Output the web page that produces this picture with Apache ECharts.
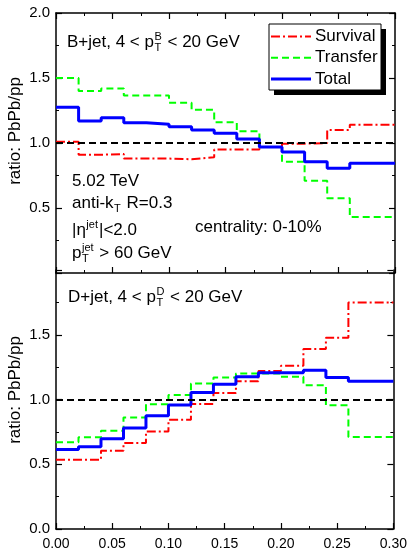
<!DOCTYPE html>
<html>
<head>
<meta charset="utf-8">
<script src="https://cdn.jsdelivr.net/npm/echarts@6/dist/echarts.min.js"></script>
<style>
html,body{margin:0;padding:0;background:#fff;}
#chart{width:410px;height:551px;}
</style>
</head>
<body>
<div id="chart"></div>
<script>
// ---------- data ----------
const binEdges = [0.00,0.02,0.04,0.06,0.08,0.10,0.12,0.14,0.16,0.18,0.20,0.22,0.24,0.26,0.28,0.30];
const seriesNames = ['Survival','Transfer','Total'];
// B+jet panel (15 bins)
const bSurvival = [1.01,0.91,0.915,0.88,0.88,0.875,0.89,0.95,0.95,0.97,0.995,1.00,1.10,1.14,1.14];
const bTransfer = [1.50,1.40,1.42,1.365,1.365,1.31,1.255,1.16,1.09,0.97,0.855,0.71,0.575,0.43,0.43];
const bTotal    = [1.275,1.17,1.195,1.155,1.145,1.125,1.10,1.075,1.03,0.97,0.93,0.855,0.805,0.845,0.845];
// D+jet panel (15 bins)
const dSurvival = [0.535,0.535,0.605,0.664,0.753,0.843,0.966,1.05,1.14,1.22,1.26,1.39,1.476,1.75,1.75];
const dTransfer = [0.669,0.708,0.759,0.861,0.963,1.034,1.124,1.17,1.20,1.20,1.175,1.111,0.955,0.71,0.71];
const dTotal    = [0.613,0.636,0.697,0.779,0.874,0.958,1.055,1.118,1.175,1.206,1.206,1.226,1.17,1.14,1.14];
const xTicks = [0.00,0.05,0.10,0.15,0.20,0.25,0.30];
const yTicks = [0.0,0.5,1.0,1.5,2.0];
const referenceValue = 1.0;

// ---------- styling ----------
const FONT = 'Liberation Sans, Arial, sans-serif';
const styles = [
  {color:'#ff0000', width:2, type:[9,3,2,3]},
  {color:'#00ff00', width:2, type:[7,4]},
  {color:'#0000ff', width:3, type:'solid'}
];

function stepData(vals){
  return binEdges.map((x,i)=>[x, vals[Math.min(i, vals.length-1)]]);
}

function xAxisCfg(gridIndex, position, showLabels){
  return {
    type:'value', gridIndex, position, min:binEdges[0], max:binEdges[binEdges.length-1], interval:xTicks[1]-xTicks[0],
    axisLine:{show:true, onZero:false, lineStyle:{color:'#000', width:1.5}},
    axisTick:{show:true, inside:true, length:6, lineStyle:{color:'#000', width:1.2}},
    minorTick:{show:true, splitNumber:2, length:3, lineStyle:{color:'#000', width:1}},
    splitLine:{show:false}, minorSplitLine:{show:false},
    axisLabel:{show:showLabels, formatter:v=>v.toFixed(2), color:'#000', fontSize:14, fontFamily:FONT, margin:8}
  };
}
function yAxisCfg(gridIndex, position, showLabels, hideMin, hideMax){
  return {
    type:'value', gridIndex, position, min:yTicks[0], max:yTicks[yTicks.length-1], interval:0.5,
    axisLine:{show:true, onZero:false, lineStyle:{color:'#000', width:1.5}},
    axisTick:{show:true, inside:true, length:6, lineStyle:{color:'#000', width:1.2}},
    minorTick:{show:true, splitNumber:2, length:3, lineStyle:{color:'#000', width:1}},
    splitLine:{show:false}, minorSplitLine:{show:false},
    axisLabel:{show:showLabels, formatter:v=>v.toFixed(1), color:'#000', fontSize:15, fontFamily:FONT, margin:6,
      showMinLabel:!hideMin, showMaxLabel:!hideMax}
  };
}

function makeSeries(vals, idx, axisIdx, withRef){
  const s = {
    name:seriesNames[idx], type:'line', step:'end', xAxisIndex:axisIdx, yAxisIndex:axisIdx,
    data:stepData(vals), showSymbol:false, symbol:'none', animation:false, silent:true,
    lineStyle:{color:styles[idx].color, width:styles[idx].width, type:styles[idx].type}, z:2+idx
  };
  if(withRef){
    s.markLine = {symbol:'none', silent:true, animation:false, label:{show:false},
      lineStyle:{color:'#000', width:2, type:[7,4]}, data:[{yAxis:referenceValue}], z:10};
  }
  return s;
}

// ---------- text helpers ----------
const mctx = document.createElement('canvas').getContext('2d');
function tw(t, size){ mctx.font = size+'px '+FONT; return mctx.measureText(t).width; }
function txt(x, baseline, t, size){
  return {type:'text', x:x, y:baseline-0.31*size, z:50,
    style:{text:t, fill:'#000', font:size+'px '+FONT, textAlign:'left', textVerticalAlign:'middle', align:'left', verticalAlign:'middle'}};
}
function mathLine(x, baseline, parts, size){
  const els = []; let cx = x; const ss = Math.round(size*0.65);
  parts.forEach(p=>{
    if(typeof p === 'string'){ els.push(txt(cx, baseline, p, size)); cx += tw(p, size); }
    else {
      let w = 0;
      if(p.sup){ els.push(txt(cx+0.5, baseline-0.42*size, p.sup, ss)); w = Math.max(w, tw(p.sup, ss)); }
      if(p.sub){ els.push(txt(cx+0.5, baseline+0.22*size, p.sub, ss)); w = Math.max(w, tw(p.sub, ss)); }
      cx += w + 1.5;
    }
  });
  return els;
}

const S = 17;
let graphics = [];
graphics = graphics.concat(mathLine(67, 48, ['B+jet, 4 < p', {sup:'B', sub:'T'}, ' < 20 GeV'], S));
graphics = graphics.concat(mathLine(72, 187, ['5.02 TeV'], S));
graphics = graphics.concat(mathLine(72, 209, ['anti-k', {sub:'T'}, ' R=0.3'], S));
graphics = graphics.concat(mathLine(72, 236, ['|η', {sup:'jet'}, '|<2.0'], S));
graphics = graphics.concat(mathLine(72, 259, ['p', {sup:'jet', sub:'T'}, ' > 60 GeV'], S));
graphics = graphics.concat(mathLine(195, 233, ['centrality: 0-10%'], S));
graphics = graphics.concat(mathLine(68, 303, ['D+jet, 4 < p', {sup:'D', sub:'T'}, ' < 20 GeV'], S));

// y axis titles
[[15,131],[15,390]].forEach(([x,y])=>{
  graphics.push({type:'text', x:x, y:y, rotation:Math.PI/2, z:50,
    style:{text:'ratio: PbPb/pp', fill:'#000', font:S+'px '+FONT, textAlign:'center', textVerticalAlign:'middle', align:'center', verticalAlign:'middle'}});
});

// legend
const LG = {x:269, y:24, w:112, h:66, sh:5};
graphics.push({type:'rect', z:40, shape:{x:LG.x+LG.sh, y:LG.y+LG.sh, width:LG.w, height:LG.h}, style:{fill:'#000'}});
graphics.push({type:'rect', z:41, shape:{x:LG.x, y:LG.y, width:LG.w, height:LG.h}, style:{fill:'#fff', stroke:'#000', lineWidth:1}});
seriesNames.forEach((n,i)=>{
  const cy = 36.5 + i*21.3;
  graphics.push({type:'line', z:42, shape:{x1:LG.x+2, y1:cy, x2:LG.x+42, y2:cy},
    style:{stroke:styles[i].color, lineWidth:styles[i].width, lineDash: styles[i].type==='solid'?null:styles[i].type}});
  graphics.push({type:'text', z:43, x:LG.x+46, y:cy,
    style:{text:n, fill:'#000', font:S+'px '+FONT, textAlign:'left', textVerticalAlign:'middle', align:'left', verticalAlign:'middle'}});
});

const option = {
  animation:false,
  backgroundColor:'#fff',
  grid:[
    {left:56, right:15, top:13, height:260},
    {left:56, right:15, top:270, height:260}
  ],
  xAxis:[
    xAxisCfg(0,'bottom',false),
    xAxisCfg(1,'bottom',true),
    xAxisCfg(0,'top',false)
  ],
  yAxis:[
    yAxisCfg(0,'left',true,true,false),
    yAxisCfg(1,'left',true,false,true),
    yAxisCfg(0,'right',false,true,true),
    yAxisCfg(1,'right',false,true,true)
  ],
  series:[
    makeSeries(bSurvival,0,0,false),
    makeSeries(bTransfer,1,0,false),
    makeSeries(bTotal,2,0,true),
    makeSeries(dSurvival,0,1,false),
    makeSeries(dTransfer,1,1,false),
    makeSeries(dTotal,2,1,true)
  ],
  graphic:graphics
};

const chart = echarts.init(document.getElementById('chart'), null, {renderer:'canvas'});
chart.setOption(option);
</script>
</body>
</html>
